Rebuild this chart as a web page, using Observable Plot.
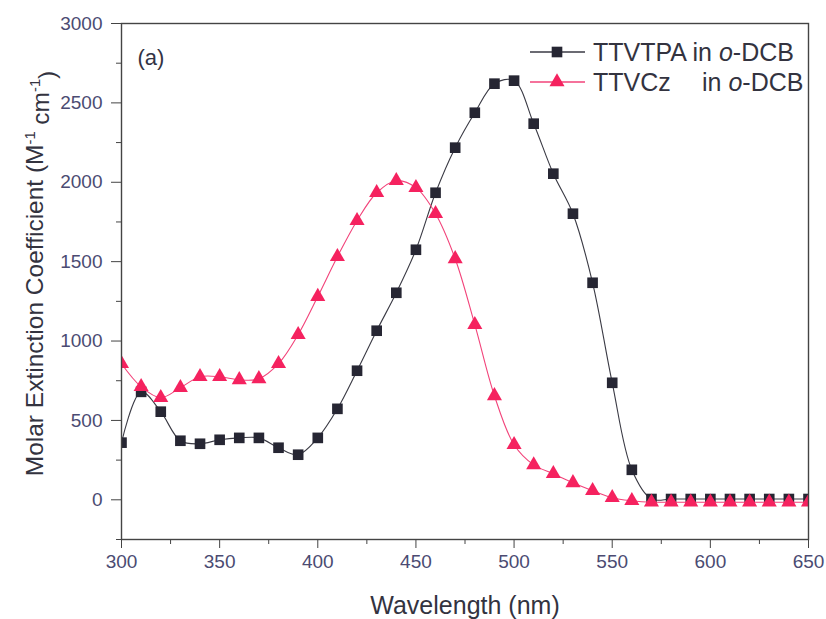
<!DOCTYPE html>
<html>
<head>
<meta charset="utf-8">
<script src="https://cdn.jsdelivr.net/npm/d3@7"></script>
<script src="https://cdn.jsdelivr.net/npm/@observablehq/plot@0.6"></script>
<style>
  html, body { margin: 0; padding: 0; background: #fff; }
  #chart { position: relative; width: 826px; height: 619px; }
</style>
</head>
<body>
<div id="chart"></div>
<script>
// ---- data ----
const wavelengths = [300,310,320,330,340,350,360,370,380,390,400,410,420,430,440,450,460,470,480,490,500,510,520,530,540,550,560,570,580,590,600,610,620,630,640,650];
const ttvtpa = [360,680,555,372,353,378,390,390,328,284,390,573,813,1065,1304,1575,1934,2218,2438,2621,2640,2369,2054,1802,1367,737,189,5,5,5,5,5,5,5,5,5];
const ttvcz  = [857,712,643,706,775,775,756,762,857,1040,1280,1531,1758,1934,2010,1966,1802,1518,1103,655,347,220,164,107,57,13,-6,-15,-15,-15,-15,-15,-15,-15,-15,-15];
const seriesNames = ["TTVTPA", "TTVCz"];
const xMajorTicks = [300,350,400,450,500,550,600,650];
const xMinorTicks = [325,375,425,475,525,575,625];
const yMajorTicks = [0,500,1000,1500,2000,2500,3000];
const yMinorTicks = [-250,250,750,1250,1750,2250,2750];
const xTitle = "Wavelength (nm)";
const yTitle = "Molar Extinction Coefficient (M-1 cm-1)";
const panelLabel = "(a)";

const colors = {TTVTPA: "#262633", TTVCz: "#f5225f"};
const lineColors = {TTVTPA: "#3a3a44", TTVCz: "#f2437a"};
const tickColor = "#4b4b72";
const titleColor = "#33333f";
const font = "'Liberation Sans', Arial, sans-serif";

const dataA = wavelengths.map((w, i) => ({w, v: ttvtpa[i]}));
const dataB = wavelengths.map((w, i) => ({w, v: ttvcz[i]}));

const plot = Plot.plot({
  width: 826,
  height: 619,
  marginLeft: 121,
  marginRight: 18,
  marginTop: 23,
  marginBottom: 80,
  style: {fontFamily: font, background: "#fff"},
  x: {domain: [300, 650]},
  y: {domain: [-250, 3000]},
  marks: [
    Plot.axisX({ticks: xMajorTicks, tickSize: 9, tickPadding: 6, fontSize: 19, color: tickColor, stroke: "#444", label: null, tickFormat: d => String(d)}),
    Plot.axisX({ticks: xMinorTicks, tickSize: 5, stroke: "#444", label: null, tickFormat: () => ""}),
    Plot.axisY({ticks: yMajorTicks, tickSize: 10, tickPadding: 9, fontSize: 19, color: tickColor, stroke: "#444", label: null, tickFormat: d => String(d)}),
    Plot.axisY({ticks: yMinorTicks, tickSize: 5, stroke: "#444", label: null, tickFormat: () => ""}),
    Plot.line(dataA, {x: "w", y: "v", stroke: lineColors.TTVTPA, strokeWidth: 1.1, curve: "catmull-rom", clip: true}),
    Plot.dot(dataA, {x: "w", y: "v", symbol: "square", r: 6, fill: colors.TTVTPA, stroke: "none", clip: true}),
    Plot.line(dataB, {x: "w", y: "v", stroke: lineColors.TTVCz, strokeWidth: 1.1, curve: "catmull-rom", clip: true}),
    Plot.dot(dataB, {x: "w", y: "v", symbol: "triangle", r: 5.6, fill: colors.TTVCz, stroke: "none", clip: true}),
    Plot.frame({stroke: "#444", strokeWidth: 1.4}),
    Plot.text([panelLabel], {frameAnchor: "top-left", dx: 16, dy: 34, text: d => d, textAnchor: "start", lineAnchor: "middle", fontSize: 22, fill: "#333344"}),
    Plot.text([xTitle], {frameAnchor: "bottom", dy: 66, text: d => d, textAnchor: "middle", lineAnchor: "middle", fontSize: 25, fill: titleColor}),
    Plot.text([yTitle], {frameAnchor: "left", dx: -86, dy: -8, rotate: -90, text: d => d, textAnchor: "middle", lineAnchor: "middle", fontSize: 24.5, fill: titleColor})
  ]
});

document.getElementById("chart").appendChild(plot);

// superscripts in the y title
const svg = d3.select(plot);
svg.selectAll("text").filter(function() { return this.textContent === yTitle; })
  .each(function() {
    const t = d3.select(this);
    t.text(null);
    t.append("tspan").text("Molar Extinction Coefficient (M");
    t.append("tspan").attr("font-size", "0.6em").attr("dy", "-0.6em").text("-1");
    t.append("tspan").attr("dy", "0.6em").text(" cm");
    t.append("tspan").attr("font-size", "0.6em").attr("dy", "-0.6em").text("-1");
    t.append("tspan").attr("dy", "0.6em").text(")");
  });

// legend (inside the frame, top-right)
const leg = svg.append("g").attr("font-family", font).attr("font-size", 25)
  .attr("fill", titleColor).attr("text-anchor", "start");
const rows = [
  {name: seriesNames[0], symbol: d3.symbolSquare, size: Math.PI * 36, y: 52},
  {name: seriesNames[1], symbol: d3.symbolTriangle, size: Math.PI * 5.6 * 5.6, y: 82}
];
rows.forEach(r => {
  leg.append("line").attr("x1", 530).attr("x2", 585).attr("y1", r.y).attr("y2", r.y)
    .attr("stroke", lineColors[r.name]).attr("stroke-width", 1.3);
  leg.append("path").attr("d", d3.symbol(r.symbol, r.size)()).attr("transform", `translate(557,${r.y})`)
    .attr("fill", colors[r.name]);
  const t = leg.append("text").attr("x", 593).attr("y", r.y).attr("dy", "0.36em").attr("text-anchor", "start");
  if (r.name === "TTVTPA") {
    t.append("tspan").text(r.name + " in ");
  } else {
    t.append("tspan").text(r.name);
    t.append("tspan").attr("x", 702).text("in ");
  }
  t.append("tspan").attr("font-style", "italic").text("o");
  t.append("tspan").text("-DCB");
});
</script>
</body>
</html>
